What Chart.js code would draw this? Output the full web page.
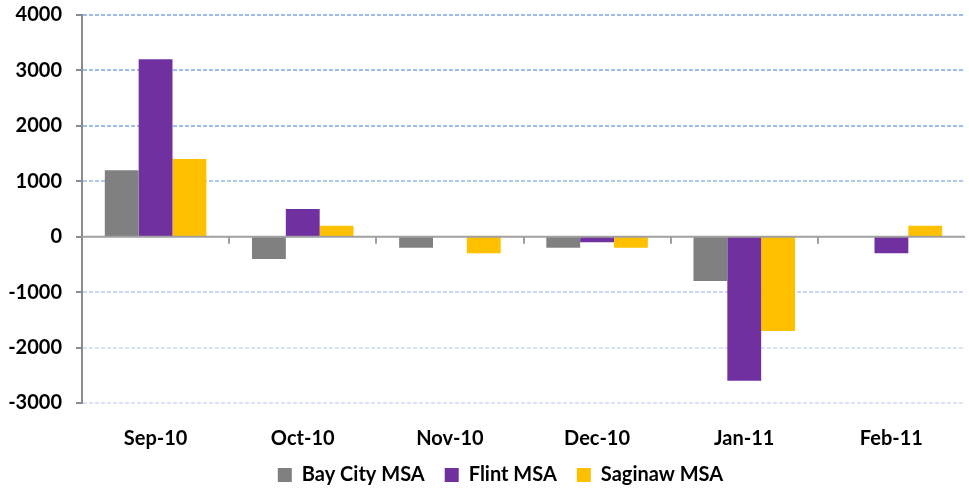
<!DOCTYPE html>
<html>
<head>
<meta charset="utf-8">
<script src="https://cdn.jsdelivr.net/npm/chart.js@4"></script>
<style>
  html, body { margin: 0; padding: 0; background: #fff; }
  #wrap { width: 969px; height: 491px; }
</style>
</head>
<body>
<div id="wrap"><canvas id="my-chart"></canvas></div>
<script>
const months = ["Sep-10", "Oct-10", "Nov-10", "Dec-10", "Jan-11", "Feb-11"];
const bayCity = [1200, -400, -200, -200, -800, 0];
const flint = [3200, 500, 0, -100, -2600, -300];
const saginaw = [1400, 200, -300, -200, -1700, 200];
const yTicks = [-3000, -2000, -1000, 0, 1000, 2000, 3000, 4000];

const font = { family: "Lato, 'Open Sans', sans-serif", weight: "bold", size: 20 };

// axis tick marks: short ones left of the y axis, and the ones hanging off the zero line
const axisTicks = {
  id: "axisTicks",
  afterDatasetsDraw(chart) {
    const x = chart.scales.x, y = chart.scales.y;
    const left = chart.chartArea.left;
    const y0 = y.getPixelForValue(0);
    const ctx = chart.ctx;
    ctx.save();
    ctx.setLineDash([]);
    ctx.lineWidth = 2;
    ctx.strokeStyle = "#8c8c8c";
    ctx.beginPath();
    yTicks.forEach((v) => {
      const py = Math.round(y.getPixelForValue(v));
      ctx.moveTo(left - 6, py);
      ctx.lineTo(left, py);
    });
    ctx.stroke();
    ctx.strokeStyle = "#a0a0a0";
    ctx.beginPath();
    for (let i = 1; i < months.length; i++) {
      const px = Math.round((x.getPixelForValue(i - 1) + x.getPixelForValue(i)) / 2);
      ctx.moveTo(px, y0);
      ctx.lineTo(px, y0 + 7);
    }
    ctx.moveTo(left, y0);
    ctx.lineTo(chart.chartArea.right, y0);
    ctx.stroke();
    ctx.restore();
  },
};

// keep the wide horizontal legend spacing but a short legend box,
// and nudge it a bit right like the original
const legendFit = {
  id: "legendFit",
  beforeLayout(chart) {
    const lg = chart.legend;
    if (lg && !lg._fitPatched) {
      const fit = lg.fit.bind(lg);
      lg.fit = function () { fit(); this.height = 46; };
      lg._fitPatched = true;
    }
  },
  afterLayout(chart) {
    const lg = chart.legend;
    if (lg) {
      lg.left += 18;
      lg.right += 18;
    }
  },
};

const data = {
  labels: months,
  datasets: [
    { label: "Bay City MSA", data: bayCity, backgroundColor: "#808080" },
    { label: "Flint MSA", data: flint, backgroundColor: "#7030a0" },
    { label: "Saginaw MSA", data: saginaw, backgroundColor: "#ffc000" },
  ],
};

const config = {
  type: "bar",
  data: data,
  plugins: [axisTicks, legendFit],
  options: {
    responsive: true,
    maintainAspectRatio: false,
    animation: false,
    layout: { padding: { top: 0, right: 4, left: 0, bottom: 0 } },
    datasets: {
      bar: { categoryPercentage: 0.69, barPercentage: 1.0 },
    },
    plugins: {
      tooltip: { enabled: false },
      legend: {
        position: "bottom",
        labels: {
          color: "#000",
          font: font,
          boxWidth: 14,
          boxHeight: 14,
          padding: 20,
        },
      },
    },
    scales: {
      x: {
        afterFit(scale) {
          scale.height = 42;
          scale._computeLabelArea = () => undefined; // don't clip labels to the short box
        },
        grid: { display: false },
        border: { display: false },
        ticks: { color: "#000", font: font, padding: 16 },
      },
      y: {
        min: -3000,
        max: 4000,
        afterFit(scale) { scale.width = 82; },
        ticks: {
          stepSize: 1000,
          color: "#000",
          font: font,
          padding: 3,
          callback: (v) => String(v),
        },
        border: { display: true, color: "#8c8c8c", width: 2, dash: [4, 2] },
        grid: {
          drawOnChartArea: true,
          tickLength: 17,
          tickColor: "rgba(0,0,0,0)",
          tickBorderDash: [1, 0],
          lineWidth: (c) => (c.tick && c.tick.value === 0 ? 0 : 2),
          color: (c) => {
            const v = c.tick ? c.tick.value : 0;
            if (v >= 2000) return "#9fbbe8";
            if (v >= 0) return "#b0c8ee";
            if (v >= -1000) return "#c9d7f2";
            return "#dbe4f6";
          },
        },
      },
    },
  },
};

const myChart = new Chart(document.getElementById("my-chart"), config);
</script>
</body>
</html>
